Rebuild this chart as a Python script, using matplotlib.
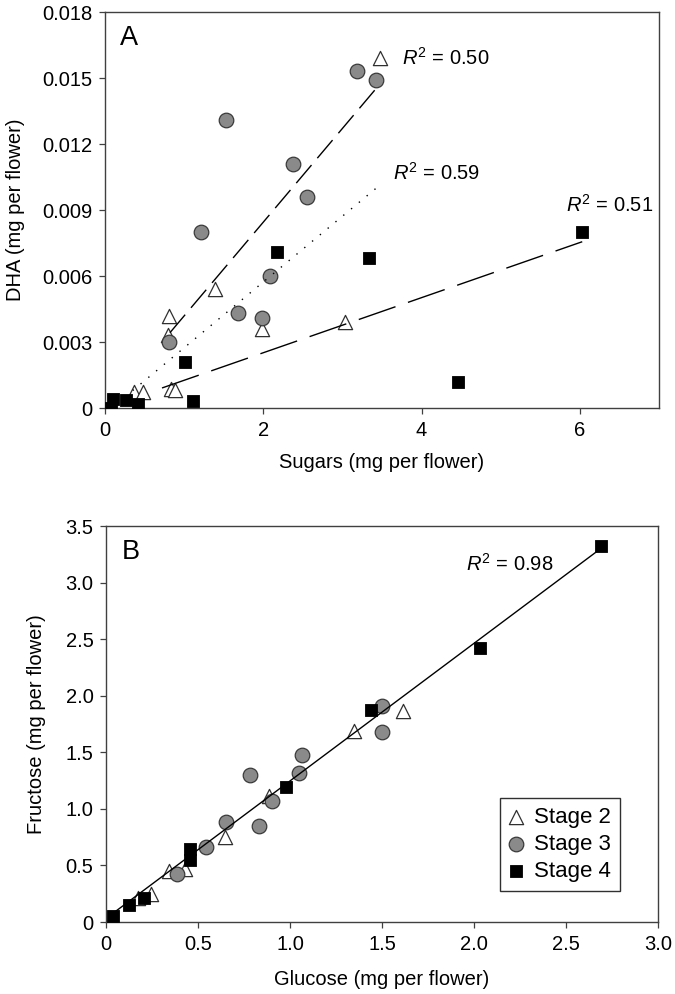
import numpy as np
import matplotlib
matplotlib.use("Agg")
import matplotlib.pyplot as plt
from matplotlib.ticker import FixedLocator, FixedFormatter

plt.rcParams['font.family'] = ['Liberation Sans', 'DejaVu Sans']
plt.rcParams['mathtext.fontset'] = 'custom'
plt.rcParams['mathtext.rm'] = 'Liberation Sans'
plt.rcParams['mathtext.it'] = 'Liberation Sans:italic'

# ---------------- Panel A data: sugars vs DHA ----------------
a_s2_sugar = [3.47, 0.81, 0.80, 1.39, 1.98, 3.03, 0.83, 0.89, 0.36, 0.48]
a_s2_dha = [0.0159, 0.0042, 0.0033, 0.0054, 0.0036, 0.0039, 0.00085, 0.0008, 0.00074, 0.00074]
a_s3_sugar = [1.53, 2.37, 3.18, 3.42, 2.55, 1.21, 2.08, 1.68, 1.98, 0.81]
a_s3_dha = [0.0131, 0.0111, 0.0153, 0.0149, 0.0096, 0.0080, 0.0060, 0.0043, 0.0041, 0.0030]
a_s4_sugar = [6.03, 3.33, 4.46, 2.17, 1.01, 1.11, 0.10, 0.08, 0.27, 0.42]
a_s4_dha = [0.0080, 0.0068, 0.0012, 0.0071, 0.0021, 0.0003, 0.0004, 0.0000, 0.00037, 0.00018]

# regression lines (x-range, [slope, intercept])
fit_a2_x = [0.82, 3.42]
fit_a2_coef = [0.00426, -0.00007]
fit_a3_x = [0.35, 3.45]
fit_a3_coef = [0.00299, -0.00025]
fit_a4_x = [0.72, 6.03]
fit_a4_coef = [0.001252, 0.00001]
r2_a = ['0.50', '0.59', '0.51']
r2_a_pos_x = [3.75, 3.64, 5.82]
r2_a_pos_y = [0.0159, 0.0107, 0.00925]

a_xticks = [0, 2, 4, 6]
a_xticklabels = ['0', '2', '4', '6']
a_yticks = [0, 0.003, 0.006, 0.009, 0.012, 0.015, 0.018]
a_yticklabels = ['0', '0.003', '0.006', '0.009', '0.012', '0.015', '0.018']

# ---------------- Panel B data: glucose vs fructose ----------------
b_s2_glu = [1.615, 1.35, 0.887, 0.645, 0.43, 0.345, 0.246, 0.175]
b_s2_fru = [1.865, 1.69, 1.11, 0.75, 0.47, 0.45, 0.25, 0.21]
b_s3_glu = [1.50, 1.50, 1.067, 1.048, 0.783, 0.90, 0.65, 0.83, 0.546, 0.385]
b_s3_fru = [1.91, 1.68, 1.48, 1.32, 1.30, 1.07, 0.88, 0.85, 0.662, 0.424]
b_s4_glu = [2.69, 2.03, 1.44, 0.98, 0.454, 0.459, 0.207, 0.127, 0.039]
b_s4_fru = [3.32, 2.42, 1.87, 1.19, 0.647, 0.544, 0.212, 0.147, 0.05]

fit_b_x = [0.03, 2.68]
fit_b_coef = [1.216, 0.031]
r2_b = '0.98'
r2_b_pos = [1.957, 3.17]

b_xticks = [0, 0.5, 1.0, 1.5, 2.0, 2.5, 3.0]
b_xticklabels = ['0', '0.5', '1.0', '1.5', '2.0', '2.5', '3.0']
b_yticks = [0, 0.5, 1.0, 1.5, 2.0, 2.5, 3.0, 3.5]
b_yticklabels = ['0', '0.5', '1.0', '1.5', '2.0', '2.5', '3.0', '3.5']

stage_labels = ['Stage 2', 'Stage 3', 'Stage 4']

# ---------------- styling ----------------
FS = 14.5
spine_col = '#404040'
tri_kw = dict(marker='^', s=105, facecolor='white', edgecolor='#303030', linewidths=0.9, zorder=3)
cir_kw = dict(marker='o', s=110, facecolor='#8a8a8a', edgecolor='#3a3a3a', linewidths=0.9, zorder=4)
sq_kw = dict(marker='s', s=82, facecolor='black', edgecolor='black', linewidths=0.6, zorder=5)

fig = plt.figure(figsize=(6.75, 9.94), dpi=100)
axA = fig.add_axes([0.1556, 0.5895, 0.8207, 0.3984])
axB = fig.add_axes([0.1570, 0.0724, 0.8178, 0.3984])


def style(ax):
    for sp in ax.spines.values():
        sp.set_color(spine_col)
        sp.set_linewidth(1.0)
    ax.tick_params(direction='out', length=4, width=0.9, color=spine_col,
                   labelsize=FS, pad=5, top=False, right=False)


# Panel A
axA.scatter(a_s2_sugar, a_s2_dha, **tri_kw)
axA.scatter(a_s3_sugar, a_s3_dha, **cir_kw)
axA.scatter(a_s4_sugar, a_s4_dha, **sq_kw)
xs = np.array(fit_a2_x)
axA.plot(xs, np.polyval(fit_a2_coef, xs), color='black', lw=1.0,
         linestyle=(0, (17, 6.5)), zorder=6)
xs = np.array(fit_a3_x)
axA.plot(xs, np.polyval(fit_a3_coef, xs), color='black', lw=1.0,
         linestyle=(0, (1, 6.3)), zorder=6)
xs = np.array(fit_a4_x)
axA.plot(xs, np.polyval(fit_a4_coef, xs), color='black', lw=1.0,
         linestyle=(0, (28, 9.5)), zorder=6)
for lab, px, py in zip(r2_a, r2_a_pos_x, r2_a_pos_y):
    axA.text(px, py, r'$R^2$ = ' + lab, fontsize=FS, ha='left', va='center')
axA.set_xlim(0, 7)
axA.set_ylim(0, 0.018)
axA.xaxis.set_major_locator(FixedLocator(a_xticks))
axA.xaxis.set_major_formatter(FixedFormatter(a_xticklabels))
axA.yaxis.set_major_locator(FixedLocator(a_yticks))
axA.yaxis.set_major_formatter(FixedFormatter(a_yticklabels))
axA.set_xlabel('Sugars (mg per flower)', fontsize=FS, labelpad=10)
axA.set_ylabel('DHA (mg per flower)', fontsize=FS)
axA.yaxis.set_label_coords(-0.145, 0.5)
axA.text(0.027, 0.968, 'A', transform=axA.transAxes, fontsize=19.5, ha='left', va='top')
style(axA)

# Panel B
h2 = axB.scatter(b_s2_glu, b_s2_fru, **tri_kw)
h3 = axB.scatter(b_s3_glu, b_s3_fru, **cir_kw)
h4 = axB.scatter(b_s4_glu, b_s4_fru, **sq_kw)
xs = np.array(fit_b_x)
axB.plot(xs, np.polyval(fit_b_coef, xs), color='black', lw=1.0, zorder=6)
axB.text(r2_b_pos[0], r2_b_pos[1], r'$R^2$ = ' + r2_b, fontsize=FS, ha='left', va='center')
axB.set_xlim(0, 3.0)
axB.set_ylim(0, 3.5)
axB.xaxis.set_major_locator(FixedLocator(b_xticks))
axB.xaxis.set_major_formatter(FixedFormatter(b_xticklabels))
axB.yaxis.set_major_locator(FixedLocator(b_yticks))
axB.yaxis.set_major_formatter(FixedFormatter(b_yticklabels))
axB.set_xlabel('Glucose (mg per flower)', fontsize=FS, labelpad=12)
axB.set_ylabel('Fructose (mg per flower)', fontsize=FS)
axB.yaxis.set_label_coords(-0.108, 0.5)
axB.text(0.029, 0.967, 'B', transform=axB.transAxes, fontsize=19.5, ha='left', va='top')
leg = axB.legend([h2, h3, h4], stage_labels, loc='lower right',
                 bbox_to_anchor=(0.931, 0.078), fontsize=16, frameon=True,
                 fancybox=False, edgecolor='#303030', framealpha=1,
                 handlelength=0.7, handletextpad=0.45, labelspacing=0.28,
                 borderpad=0.4, borderaxespad=0.0, scatterpoints=1)
leg.get_frame().set_linewidth(1.0)
style(axB)

fig.savefig('out.png', dpi=100)
